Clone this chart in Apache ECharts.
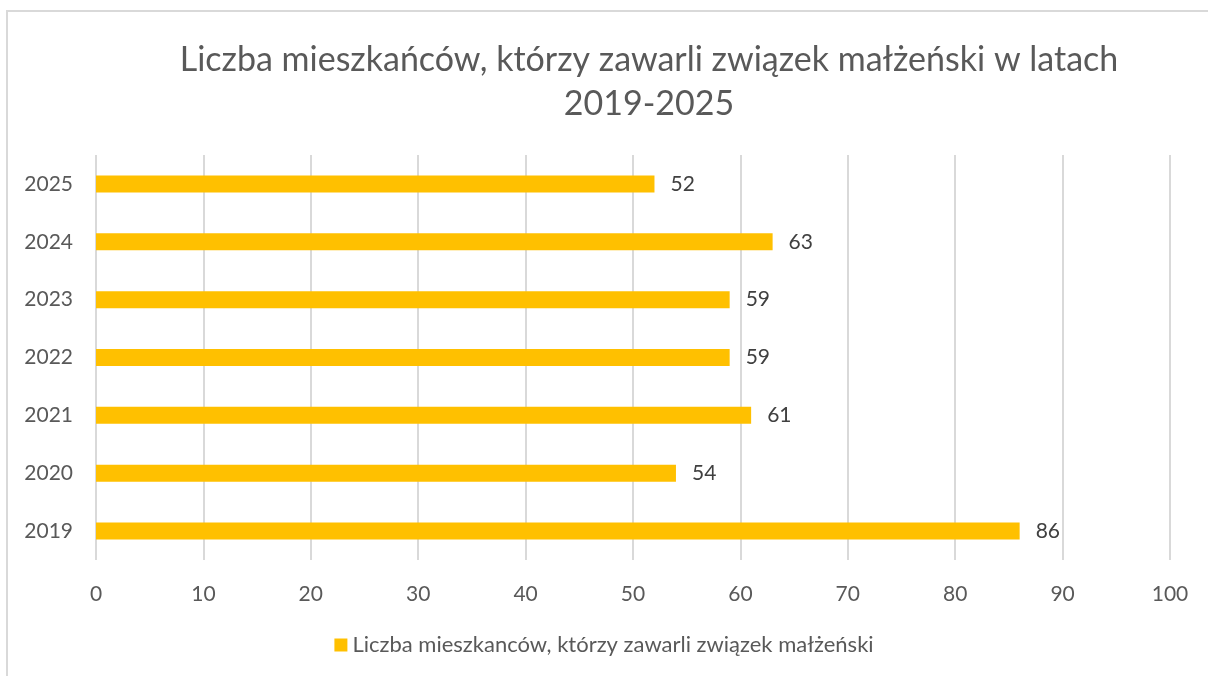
<!DOCTYPE html>
<html>
<head>
<meta charset="utf-8">
<script src="https://cdn.jsdelivr.net/npm/echarts@6/dist/echarts.min.js"></script>
<style>
  html, body { margin: 0; padding: 0; background: #fff; }
  #chart { width: 1208px; height: 676px; }
</style>
</head>
<body>
<div id="chart"></div>
<script>
// dane z wykresu
var years = ['2019', '2020', '2021', '2022', '2023', '2024', '2025'];
var marriages = [86, 54, 61, 59, 59, 63, 52];
var seriesName = 'Liczba mieszkanców, którzy zawarli związek małżeński';
var titleText = 'Liczba mieszkańców, którzy zawarli związek małżeński w latach\n2019-2025';

var fontFam = 'Lato, "Open Sans", sans-serif';
var chart = echarts.init(document.getElementById('chart'));

chart.setOption({
  animation: false,
  textStyle: { fontFamily: fontFam },
  title: {
    text: titleText,
    left: 644,
    top: 33,
    textAlign: 'center',
    textStyle: { fontFamily: fontFam, fontSize: 34, fontWeight: 'normal', color: '#595959', lineHeight: 44 }
  },
  graphic: [{
    type: 'rect',
    shape: { x: 7, y: 11, width: 1400, height: 900 },
    style: { fill: 'none', stroke: '#d9d9d9', lineWidth: 2 },
    silent: true
  }],
  legend: {
    bottom: 15,
    left: 'center',
    itemWidth: 13,
    itemHeight: 13,
    itemGap: 6,
    icon: 'rect',
    textStyle: { fontSize: 22, color: '#595959', fontFamily: fontFam },
    data: [seriesName]
  },
  grid: { left: 96, right: 38, top: 155, bottom: 116 },
  xAxis: {
    type: 'value',
    min: 0,
    max: 100,
    interval: 10,
    axisLine: { show: false },
    axisTick: { show: false },
    axisLabel: { fontSize: 21, color: '#595959', margin: 24 },
    splitLine: { lineStyle: { color: '#d9d9d9', width: 2 } }
  },
  yAxis: {
    type: 'category',
    data: years,
    axisLine: { show: false },
    axisTick: { show: false },
    axisLabel: { fontSize: 21, color: '#595959', margin: 23 }
  },
  series: [{
    name: seriesName,
    type: 'bar',
    data: marriages,
    barWidth: 17,
    itemStyle: { color: '#FFC000' },
    label: {
      show: true,
      position: 'right',
      distance: 16,
      fontSize: 21,
      color: '#404040'
    }
  }]
});
</script>
</body>
</html>
